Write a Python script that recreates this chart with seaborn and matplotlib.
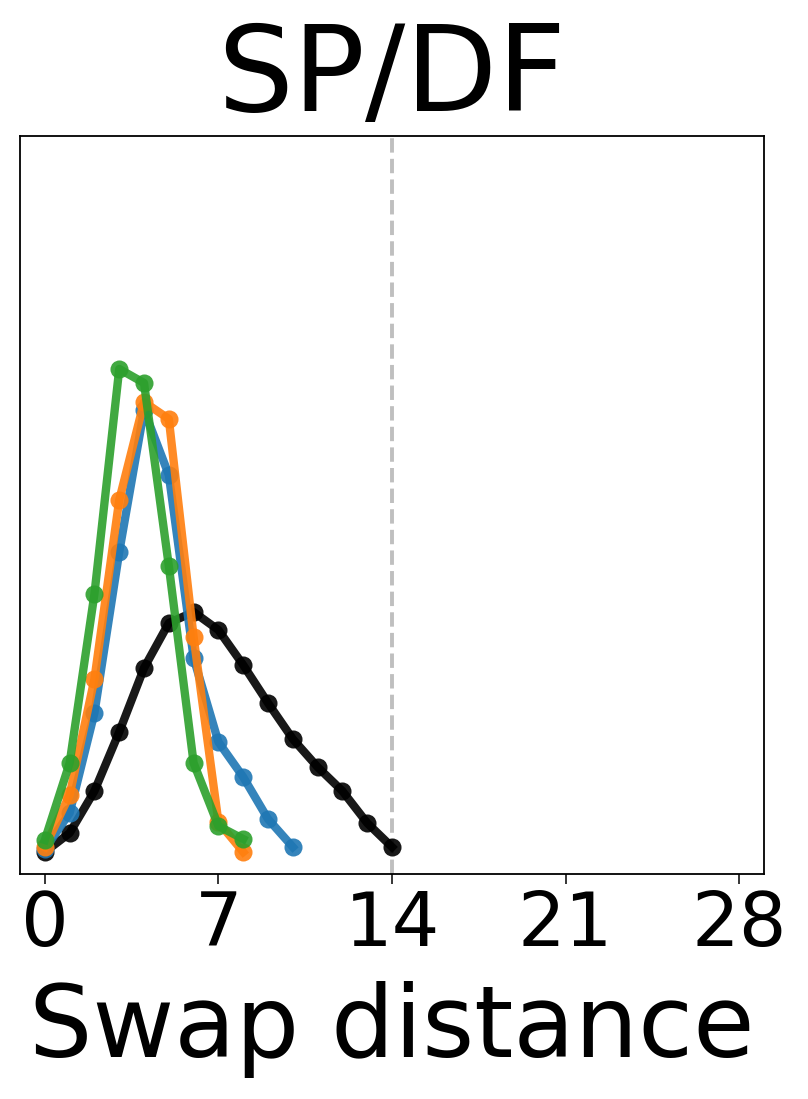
import numpy as np
import seaborn as sns
import matplotlib.pyplot as plt
import pandas as pd

# values (arbitrary units, no y ticks shown)
x_black = list(range(15))
y_black = [0.022, 0.041, 0.083, 0.142, 0.206, 0.251, 0.262, 0.244, 0.209, 0.171,
           0.135, 0.107, 0.083, 0.051, 0.027]
x_blue = list(range(11))
y_blue = [0.025, 0.061, 0.161, 0.322, 0.464, 0.399, 0.216, 0.132, 0.097, 0.055, 0.027]
x_orange = list(range(9))
y_orange = [0.027, 0.079, 0.195, 0.374, 0.472, 0.455, 0.237, 0.052, 0.022]
x_green = list(range(9))
y_green = [0.034, 0.111, 0.280, 0.505, 0.491, 0.308, 0.111, 0.048, 0.035]

series = ["black", "blue", "orange", "green"]
colors = {"black": "black", "blue": "tab:blue", "orange": "tab:orange", "green": "tab:green"}

frames = []
for name, xs, ys in [("black", x_black, y_black), ("blue", x_blue, y_blue),
                     ("orange", x_orange, y_orange), ("green", x_green, y_green)]:
    frames.append(pd.DataFrame({"x": xs, "y": ys, "s": name}))
df = pd.concat(frames, ignore_index=True)

fig = plt.figure(figsize=(8.08, 10.99), dpi=100)
ax = fig.add_axes([0.0248, 0.2047, 0.9207, 0.6716])

ax.axvline(14, color="#bfbfbf", linestyle="--", linewidth=2.8, zorder=0)

sns.lineplot(data=df, x="x", y="y", hue="s", hue_order=series, palette=colors,
             marker="o", markersize=13, markeredgewidth=0, linewidth=6, alpha=0.9,
             sort=False, legend=False, ax=ax)

ax.set_xlim(-1, 29)
ax.set_ylim(0, 0.738)
ax.set_xticks([0, 7, 14, 21, 28])
ax.set_yticks([])
ax.tick_params(axis="x", labelsize=54, length=7, width=1.1)
for sp in ax.spines.values():
    sp.set_linewidth(1.3)
ax.set_ylabel("")
ax.set_xlabel("Swap distance", fontsize=72, labelpad=14)
ax.set_title("SP/DF", fontsize=86, pad=12)

fig.savefig("out.png", dpi=100)
